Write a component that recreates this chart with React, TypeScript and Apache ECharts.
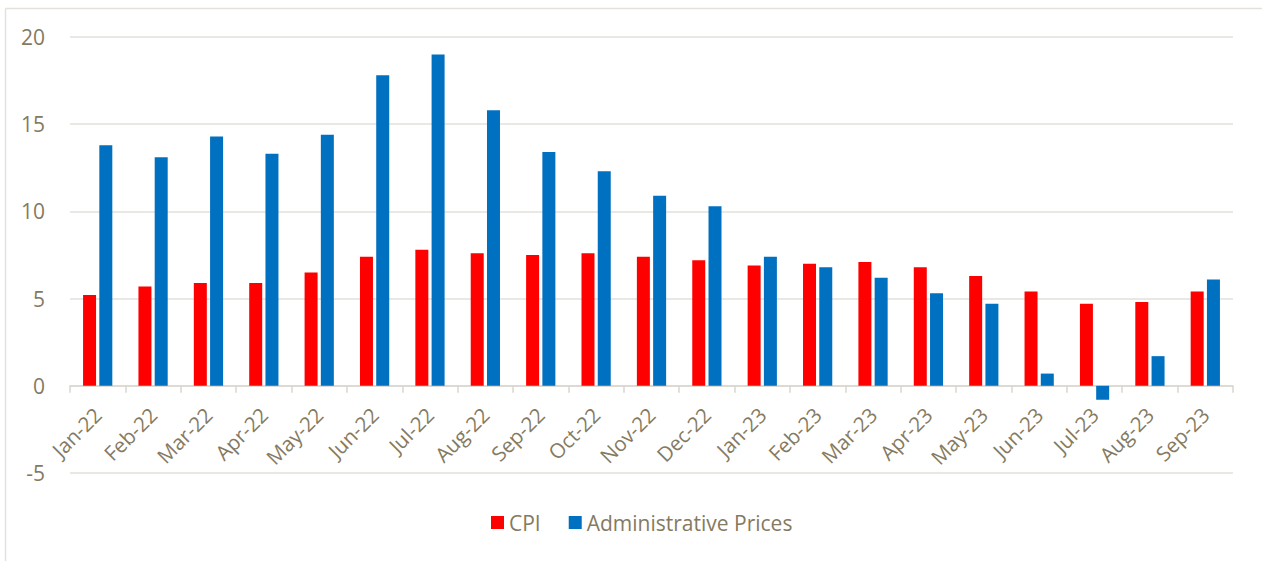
import React, { useEffect, useRef } from "react";
import * as echarts from "echarts";

const categories = [
  "Jan-22", "Feb-22", "Mar-22", "Apr-22", "May-22", "Jun-22", "Jul-22",
  "Aug-22", "Sep-22", "Oct-22", "Nov-22", "Dec-22", "Jan-23", "Feb-23",
  "Mar-23", "Apr-23", "May-23", "Jun-23", "Jul-23", "Aug-23", "Sep-23",
];
const cpi = [5.2, 5.7, 5.9, 5.9, 6.5, 7.4, 7.8, 7.6, 7.5, 7.6, 7.4, 7.2, 6.9, 7.0, 7.1, 6.8, 6.3, 5.4, 4.7, 4.8, 5.4];
const adminPrices = [13.8, 13.1, 14.3, 13.3, 14.4, 17.8, 19.0, 15.8, 13.4, 12.3, 10.9, 10.3, 7.4, 6.8, 6.2, 5.3, 4.7, 0.7, -0.8, 1.7, 6.1];
const yTicks = { min: -5, max: 20, interval: 5 };

const TEXT = "#857a5f";
const FONT = "'Open Sans', 'Noto Sans', sans-serif";

export default function App() {
  const ref = useRef<HTMLDivElement>(null);
  useEffect(() => {
    if (!ref.current) return;
    const chart = echarts.init(ref.current, undefined, { renderer: "svg" });
    chart.setOption({
      animation: false,
      backgroundColor: "#ffffff",
      textStyle: { fontFamily: FONT },
      graphic: [
        { type: "line", shape: { x1: 5.5, y1: 8.5, x2: 1262, y2: 8.5 }, style: { stroke: "#e3e1da", lineWidth: 1.5 } },
        { type: "line", shape: { x1: 5.5, y1: 8.5, x2: 5.5, y2: 561 }, style: { stroke: "#e3e1da", lineWidth: 1.5 } },
      ],
      grid: { left: 70, right: 29, top: 37, bottom: 88, containLabel: false },
      legend: {
        left: 486,
        top: 507,
        icon: "rect",
        itemWidth: 13,
        itemHeight: 13,
        itemGap: 28,
        textStyle: { color: TEXT, fontSize: 21, fontFamily: FONT },
        data: ["CPI", "Administrative Prices"],
      },
      xAxis: {
        type: "category",
        data: categories,
        boundaryGap: true,
        axisLine: { onZero: true, lineStyle: { color: "#d9d6ce", width: 1.5 } },
        axisTick: { show: true, length: 7, lineStyle: { color: "#d9d6ce", width: 1.5 } },
        axisLabel: { rotate: 45, color: TEXT, fontSize: 20.5, margin: -62, interval: 0, fontFamily: FONT },
      },
      yAxis: {
        type: "value",
        min: yTicks.min,
        max: yTicks.max,
        interval: yTicks.interval,
        axisLine: { show: false },
        axisTick: { show: false },
        splitLine: { lineStyle: { color: "#e3e0d8", width: 1.5 } },
        axisLabel: { color: TEXT, fontSize: 21, margin: 25, fontFamily: FONT },
      },
      series: [
        {
          name: "CPI",
          type: "bar",
          data: cpi,
          barWidth: 13,
          barGap: "25%",
          itemStyle: { color: "#ff0000" },
        },
        {
          name: "Administrative Prices",
          type: "bar",
          data: adminPrices,
          barWidth: 13,
          barGap: "25%",
          itemStyle: { color: "#0070c0" },
        },
      ],
    });
    return () => chart.dispose();
  }, []);
  return <div ref={ref} style={{ width: 1262, height: 561, position: "absolute", left: 0, top: 0 }} />;
}
